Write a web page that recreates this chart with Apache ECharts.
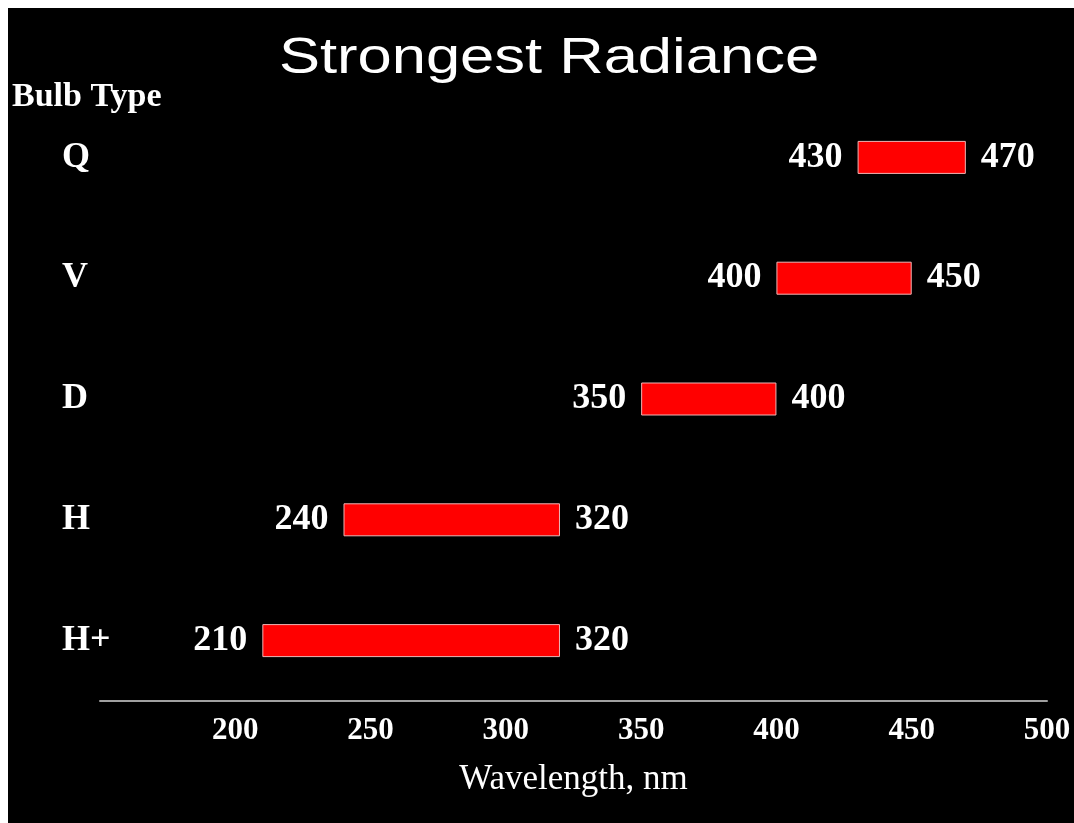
<!DOCTYPE html>
<html>
<head>
<meta charset="utf-8">
<script src="https://cdn.jsdelivr.net/npm/echarts@6/dist/echarts.min.js"></script>
<style>
html, body { margin: 0; padding: 0; background: #ffffff; overflow: hidden; width: 1074px; height: 823px; }
#chart { position: absolute; left: 8px; top: 8px; width: 1066px; height: 815px; background: #000000; }
</style>
</head>
<body>
<div id="chart"></div>
<script>
var categories = ['Q', 'V', 'D', 'H', 'H+'];
var starts = [430, 400, 350, 240, 210];
var ends = [470, 450, 400, 320, 320];
var tickMin = 150, tickMax = 500, tickStep = 50;

var spans = ends.map(function (e, i) { return e - starts[i]; });

var serif = '"Liberation Serif", "Times New Roman", serif';
var chart = echarts.init(document.getElementById('chart'), null, { renderer: 'canvas' });
chart.setOption({
  backgroundColor: '#000000',
  animation: false,
  graphic: [
    {
      type: 'text', x: 541, y: 51, scaleX: 1.23, scaleY: 1, silent: true,
      style: { text: 'Strongest Radiance', fill: '#ffffff', font: 'normal 50px "Liberation Sans", Arial, sans-serif', textAlign: 'center', textVerticalAlign: 'middle' }
    },
    {
      type: 'text', x: 4, y: 89, silent: true,
      style: { text: 'Bulb Type', fill: '#ffffff', font: 'bold 34px ' + serif, textAlign: 'left', textVerticalAlign: 'middle' }
    }
  ],
  grid: { left: 92, right: 27, top: 89, bottom: 122, containLabel: false },
  xAxis: {
    type: 'value', min: tickMin, max: tickMax, interval: tickStep,
    name: 'Wavelength, nm', nameLocation: 'middle', nameGap: 61,
    nameTextStyle: { color: '#ffffff', fontFamily: serif, fontSize: 35, fontWeight: 'normal' },
    axisLine: { show: true, lineStyle: { color: '#a0a0a0', width: 2 } },
    axisTick: { show: false },
    splitLine: { show: false },
    axisLabel: { showMinLabel: false, color: '#ffffff', fontFamily: serif, fontSize: 31, fontWeight: 'bold', margin: 14 }
  },
  yAxis: {
    type: 'category', data: categories, inverse: true,
    axisLine: { show: false }, axisTick: { show: false }, splitLine: { show: false },
    axisLabel: { align: 'left', margin: 38, color: '#ffffff', fontFamily: serif, fontSize: 36, fontWeight: 'bold' }
  },
  series: [
    {
      type: 'bar', stack: 'r', data: starts, barWidth: 33, silent: true,
      itemStyle: { color: 'rgba(0,0,0,0)' },
      emphasis: { disabled: true },
      label: {
        show: true, position: 'insideRight', distance: 15, color: '#ffffff',
        fontFamily: serif, fontSize: 36, fontWeight: 'bold',
        formatter: function (p) { return String(starts[p.dataIndex]); }
      }
    },
    {
      type: 'bar', stack: 'r', data: spans, barWidth: 33, silent: true,
      itemStyle: { color: '#ff0000', borderColor: '#f0b4b4', borderWidth: 1 },
      emphasis: { disabled: true },
      label: {
        show: true, position: 'right', distance: 15, color: '#ffffff',
        fontFamily: serif, fontSize: 36, fontWeight: 'bold',
        formatter: function (p) { return String(ends[p.dataIndex]); }
      }
    }
  ]
});
</script>
</body>
</html>
